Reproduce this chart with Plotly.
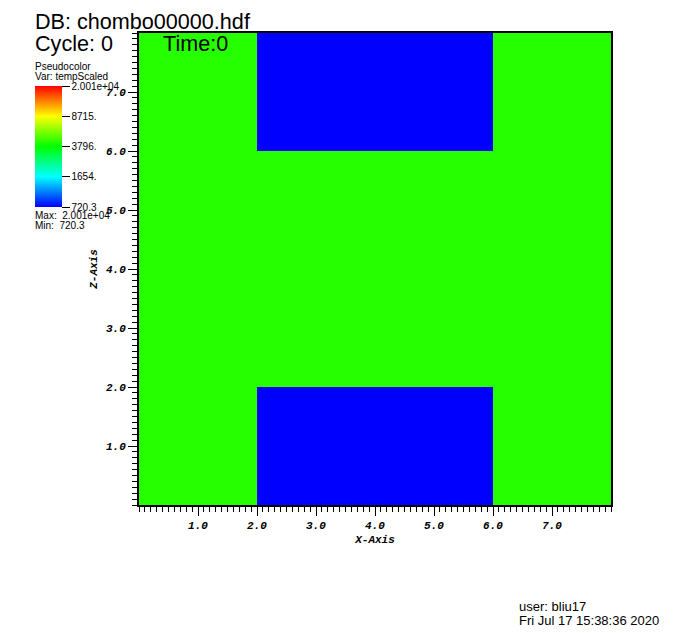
import plotly.graph_objects as go
import numpy as np

# ---- data ----
x_centers = [0.5, 1.5, 2.5, 3.5, 4.5, 5.5, 6.5, 7.5]
z_centers = [0.5, 1.5, 2.5, 3.5, 4.5, 5.5, 6.5, 7.5]
G = 4300.0   # green region temperature
B = 720.3    # blue region temperature
temp_rows = [
    [G, G, B, B, B, B, G, G],
    [G, G, B, B, B, B, G, G],
    [G, G, G, G, G, G, G, G],
    [G, G, G, G, G, G, G, G],
    [G, G, G, G, G, G, G, G],
    [G, G, G, G, G, G, G, G],
    [G, G, B, B, B, B, G, G],
    [G, G, B, B, B, B, G, G],
]
var_min = 720.3
var_max = 20010.0
cbar_vals = [720.3, 1654.0, 3796.0, 8715.0, 20010.0]
cbar_text = ["720.3", "1654.", "3796.", "8715.", "2.001e+04"]
axis_ticks = [1, 2, 3, 4, 5, 6, 7]
axis_ticktext = ["1.0", "2.0", "3.0", "4.0", "5.0", "6.0", "7.0"]

OFF = 8  # page body margin
W, H = 693 - OFF, 633 - OFF
L, T = 139 - OFF, 33 - OFF
pw = ph = 472
R = W - L - pw
Bm = H - T - ph

hot = [[0.0, "rgb(0,0,255)"], [0.25, "rgb(0,255,255)"], [0.5, "rgb(0,255,0)"],
       [0.75, "rgb(255,255,0)"], [1.0, "rgb(255,0,0)"]]

zlog = np.log10(np.array(temp_rows))

def px_x(px):
    return (px - OFF - L) / pw

def px_y(py):
    return (T + ph - (py - OFF)) / ph

fig = go.Figure()
fig.add_trace(go.Heatmap(
    x=x_centers, y=z_centers, z=zlog,
    zmin=np.log10(var_min), zmax=np.log10(var_max),
    colorscale=hot,
    hoverinfo="skip",
    colorbar=dict(
        thickness=27, thicknessmode="pixels",
        len=121, lenmode="pixels",
        x=px_x(35), xanchor="left",
        y=px_y(146.5), yanchor="middle",
        xpad=0, ypad=0, outlinewidth=0,
        tickvals=list(np.log10(cbar_vals)), ticktext=cbar_text,
        ticks="outside", ticklen=8, tickwidth=1, tickcolor="black",
        tickfont=dict(family="Liberation Sans", size=10, color="black"),
    ),
))

minor = dict(dtick=0.1, ticks="outside", ticklen=5, tickcolor="black", tickwidth=1)
tickfont = dict(family="Liberation Mono", size=11, color="black", weight="bold", style="italic")
fig.update_xaxes(
    range=[0, 8], tickvals=axis_ticks, ticktext=axis_ticktext,
    ticks="outside", ticklen=9, tickcolor="black", tickwidth=1,
    showline=True, linecolor="black", linewidth=2, mirror=True,
    showgrid=False, zeroline=False, minor=minor, tickfont=tickfont,
    title=dict(text="X-Axis", font=tickfont, standoff=4),
)
fig.update_yaxes(
    range=[0, 8], tickvals=axis_ticks, ticktext=axis_ticktext,
    ticks="outside", ticklen=9, tickcolor="black", tickwidth=1,
    showline=True, linecolor="black", linewidth=2, mirror=True,
    showgrid=False, zeroline=False, minor=minor, tickfont=tickfont,
    title=dict(text="Z-Axis", font=tickfont, standoff=6),
)

fig.update_layout(width=W, height=H,
                  margin=dict(l=L, r=R, t=T, b=Bm, autoexpand=False),
                  plot_bgcolor="white", paper_bgcolor="white", showlegend=False)

anns = [
    (35, 22, "DB: chombo00000.hdf", 21.6),
    (35, 43, "Cycle: 0", 21.6),
    (163, 43, "Time:0", 21.6),
    (35, 66, "Pseudocolor", 10),
    (35, 76, "Var: tempScaled", 10),
    (35, 215, "Max:  2.001e+04", 10),
    (35, 225, "Min:  720.3", 10),
    (519, 606, "user: bliu17", 13),
    (519, 620, "Fri Jul 17 15:38:36 2020", 13),
]
for (px, py, s, size) in anns:
    fig.add_annotation(x=px_x(px), y=px_y(py), xref="paper", yref="paper",
                       text=s, showarrow=False, xanchor="left", yanchor="middle",
                       xshift=-2,
                       font=dict(family="Liberation Sans", size=size, color="black"))

fig.write_html("out.html")
